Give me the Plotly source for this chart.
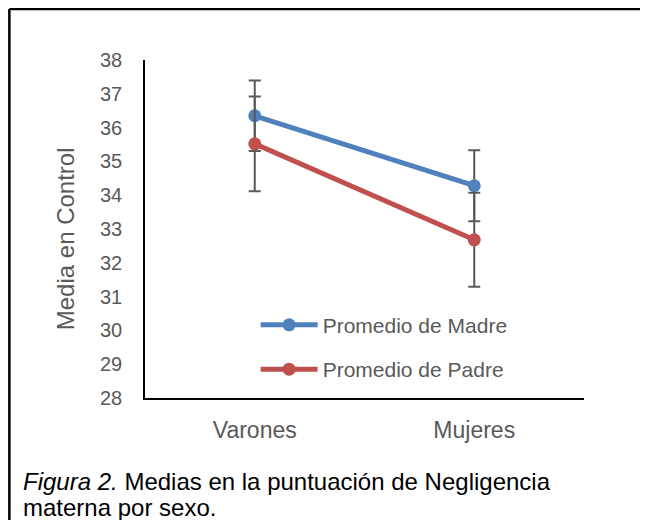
import plotly.graph_objects as go

# --- data ---
categorias = ["Varones", "Mujeres"]
madre = [36.35, 34.28]
padre = [35.52, 32.68]
err_madre = [1.04, 1.05]
err_padre = [1.40, 1.39]

AZUL = "#4F81BD"
ROJO = "#C0504D"
GRIS = "#595959"
FONT = "Liberation Sans, Arial, sans-serif"

fig = go.Figure()

for nombre, vals, errs, color, grp in [
    ("Promedio de Madre", madre, err_madre, AZUL, "m"),
    ("Promedio de Padre", padre, err_padre, ROJO, "p"),
]:
    fig.add_trace(go.Scatter(
        x=categorias, y=vals, name=nombre, mode="lines+markers",
        line=dict(color=color, width=5),
        marker=dict(color=color, size=13),
        error_y=dict(type="data", array=errs, visible=True,
                     color=GRIS, thickness=2, width=6),
        legendgroup=grp,
    ))

# page body has an 8px margin, so the figure is placed 8px right/down
fig.update_layout(
    width=648, height=520,
    template="none",
    paper_bgcolor="white", plot_bgcolor="white",
    margin=dict(l=137, r=72, t=52, b=130),
    font=dict(family=FONT, color=GRIS, size=20),
    showlegend=True,
    legend=dict(
        x=0.252, y=0.276, xanchor="left", yanchor="top",
        bgcolor="rgba(0,0,0,0)", itemwidth=57,
        font=dict(size=21, color=GRIS), tracegroupgap=14,
    ),
)

fig.update_xaxes(
    type="category", range=[-0.5, 1.5],
    showline=True, linecolor="black", linewidth=1.5,
    showgrid=False, zeroline=False, ticks="",
    ticklabelstandoff=11, tickfont=dict(size=23, color=GRIS),
)
fig.update_yaxes(
    range=[28, 38], dtick=1,
    showline=True, linecolor="black", linewidth=1.5,
    showgrid=False, zeroline=False, ticks="",
    ticklabelstandoff=17, tickfont=dict(size=20, color=GRIS),
)

# y axis title
fig.add_annotation(
    text="Media en Control", xref="paper", yref="paper",
    x=-0.182, y=0.47, xanchor="center", yanchor="middle",
    textangle=-90, showarrow=False,
    font=dict(size=24, color=GRIS, family=FONT),
)

# caption, two lines
fig.add_annotation(
    text="<i>Figura 2.</i> Medias en la puntuación de Negligencia",
    xref="paper", yref="paper", x=-0.282, y=-0.2485,
    xanchor="left", yanchor="middle", showarrow=False,
    font=dict(size=24, color="black", family=FONT),
)
fig.add_annotation(
    text="materna por sexo.",
    xref="paper", yref="paper", x=-0.282, y=-0.3254,
    xanchor="left", yanchor="middle", showarrow=False,
    font=dict(size=24, color="black", family=FONT),
)

# frame lines (top and left)
fig.add_shape(type="line", xref="paper", yref="paper",
              x0=-0.309, x1=1.2, y0=1.151, y1=1.151,
              line=dict(color="black", width=2.5))
fig.add_shape(type="line", xref="paper", yref="paper",
              x0=-0.309, x1=-0.309, y0=1.151, y1=-0.4,
              line=dict(color="black", width=2.5))

fig.write_html("out.html")
